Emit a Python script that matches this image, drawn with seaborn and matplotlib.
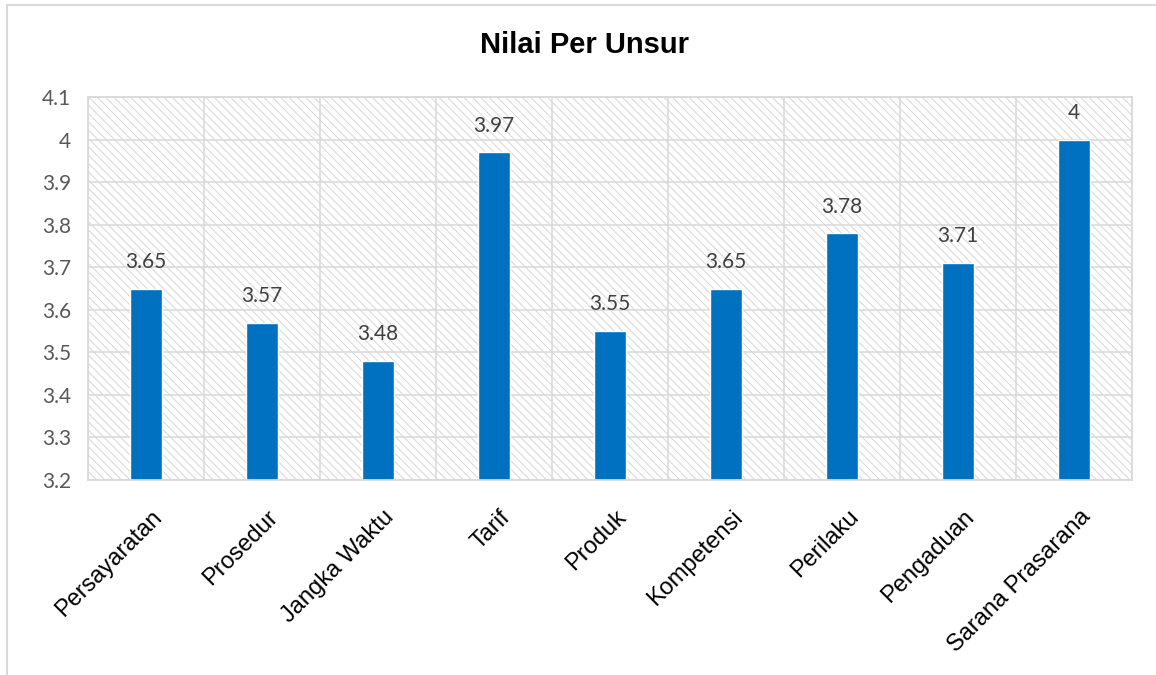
import numpy as np
import pandas as pd
import matplotlib.pyplot as plt
import matplotlib.transforms as mtransforms
import seaborn as sns
from matplotlib.patches import Rectangle
from matplotlib.lines import Line2D
from matplotlib.ticker import MultipleLocator, FuncFormatter

# Data
unsur = ['Persayaratan', 'Prosedur', 'Jangka Waktu', 'Tarif', 'Produk',
         'Kompetensi', 'Perilaku', 'Pengaduan', 'Sarana Prasarana']
nilai = [3.65, 3.57, 3.48, 3.97, 3.55, 3.65, 3.78, 3.71, 4.0]

df = pd.DataFrame({'Unsur': unsur, 'Nilai': nilai})

sns.set_style('white')
plt.rcParams['font.family'] = ['Liberation Sans', 'DejaVu Sans']
plt.rcParams['hatch.linewidth'] = 0.7

grid_col = '#d9d9d9'

fig = plt.figure(figsize=(11.56, 6.75), dpi=100)
ax = fig.add_axes([88 / 1156, 1 - 480 / 675, (1132 - 88) / 1156, (480 - 97) / 675])

# latar belakang berarsir
ax.add_patch(Rectangle((0, 0), 1, 1, transform=ax.transAxes, facecolor='white',
                       edgecolor='#d6d6d6', hatch='\\\\\\\\', lw=0, zorder=0.1))

sns.barplot(data=df, x='Unsur', y='Nilai', color='#0070C0', width=0.27,
            saturation=1, ax=ax, zorder=2)

ax.set_ylim(3.2, 4.1)
ax.set_xlim(-0.5, len(unsur) - 0.5)
ax.yaxis.set_major_locator(MultipleLocator(0.1))
ax.yaxis.set_major_formatter(FuncFormatter(lambda v, p: f'{round(v, 2):g}'))
ax.set_xticks(np.arange(-0.5, len(unsur), 1), minor=True)

ax.set_axisbelow(True)
ax.grid(True, axis='y', which='major', color=grid_col, lw=1.1)
ax.grid(True, axis='x', which='minor', color=grid_col, lw=1.1)
ax.grid(False, axis='x', which='major')
for s in ax.spines.values():
    s.set_color(grid_col)
    s.set_linewidth(1.3)

ax.tick_params(axis='both', which='both', length=0)
ax.tick_params(axis='y', pad=12, labelsize=15, labelcolor='#595959')
for t in ax.get_yticklabels():
    t.set_family(['Lato', 'DejaVu Sans'])

ax.set_xticks(range(len(unsur)))
ax.set_xticklabels(unsur, rotation=45, ha='right', va='center',
                   rotation_mode='anchor', fontsize=17, color='black')
ax.tick_params(axis='x', pad=20)
geser = mtransforms.ScaledTranslation(13 / 100, -6 / 100, fig.dpi_scale_trans)
for t in ax.get_xticklabels():
    t.set_transform(t.get_transform() + geser)
ax.set_xlabel('')
ax.set_ylabel('')

labels = ax.bar_label(ax.containers[0], labels=[f'{v:g}' for v in nilai],
                      padding=12, fontsize=15, color='#404040')
for t in labels:
    t.set_family(['Lato', 'DejaVu Sans'])

fig.text(584 / 1156, 1 - 45 / 675, 'Nilai Per Unsur', ha='center', va='center',
         fontsize=21, fontweight='bold', color='black')

# bingkai chart
fig.add_artist(Line2D([7 / 1156, 7 / 1156], [0, 1 - 5 / 675], color=grid_col, lw=1.5))
fig.add_artist(Line2D([7 / 1156, 1], [1 - 5 / 675, 1 - 5 / 675], color=grid_col, lw=1.5))

plt.savefig('out.png', dpi=100)
plt.close()
